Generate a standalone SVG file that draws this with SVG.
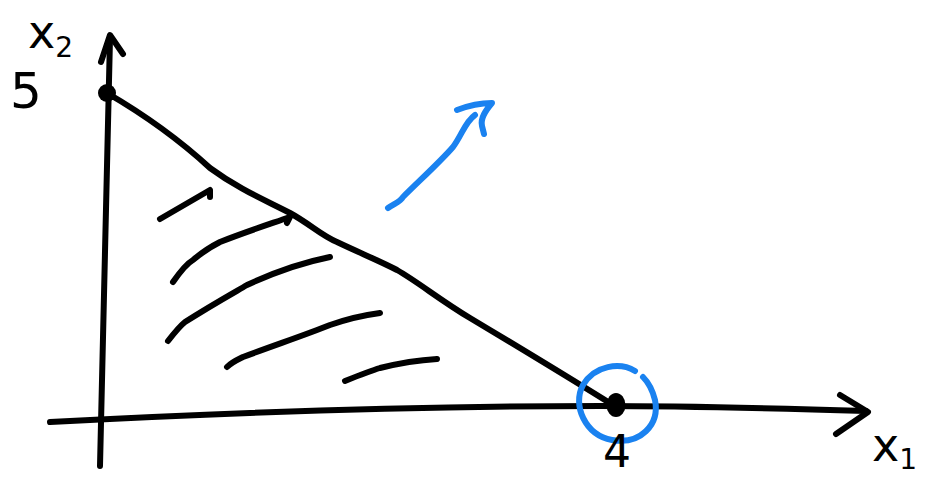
<svg xmlns="http://www.w3.org/2000/svg" width="930" height="480" viewBox="0 0 930 480">
<style>
.ink{fill:none;stroke:#000;stroke-width:6;stroke-linecap:round;stroke-linejoin:round}
.blue{fill:none;stroke:#1a82f0;stroke-width:6;stroke-linecap:round;stroke-linejoin:round}
.lbl{font-family:"DejaVu Sans","Liberation Sans",sans-serif;fill:#000}
</style>
<rect width="930" height="480" fill="#fff"/>
<g id="axes">
  <path class="ink" d="M100,466 C102,340 106,200 110,38"/>
  <path class="ink" d="M101,62 L110,35 L123,54"/>
  <path class="ink" d="M50,422 C200,414 400,406 600,406 C700,406 800,409 866,411"/>
  <path class="ink" d="M840,395 L868,412 L836,434"/>
</g>
<g id="feasible-region">
  <path class="ink" d="M107,93 C150,118 185,145 210,168 C240,190 265,200 290,213 C310,224 322,236 337,242 C360,253 380,261 397,270 C418,282 440,300 470,318 C510,342 560,372 616,407"/>
  <path class="ink" d="M160,219 L210,190 L210,197"/>
  <path class="ink" d="M173,282 C180,272 186,264 193,260 C205,250 212,246 220,242 C245,232 270,224 290,217 L287,223"/>
  <path class="ink" d="M168,341 C175,332 180,326 185,322 C210,306 228,296 247,285 C275,272 305,262 330,257"/>
  <path class="ink" d="M227,367 C232,362 237,360 243,357 C275,345 305,335 330,325 C350,318 365,315 380,313"/>
  <path class="ink" d="M345,381 C360,375 370,371 380,368 C400,363 420,360 437,359"/>
</g>
<g id="point-5">
  <circle cx="107" cy="93" r="9" fill="#000"/>
  <text class="lbl" x="10" y="108" font-size="50">5</text>
</g>
<g id="point-4">
  <ellipse cx="616" cy="405" rx="9.5" ry="12" fill="#000"/>
  <path class="blue" d="M635,371 C620,362 595,365 583,385 C572,405 585,435 612,440 C640,445 660,425 655,400 C652,388 648,382 643,377"/>
  <text class="lbl" x="603" y="467" font-size="44">4</text>
</g>
<g id="labels">
  <text class="lbl" x="28" y="48" font-size="46">x<tspan font-size="28" dy="9">2</tspan></text>
  <text class="lbl" x="872" y="461" font-size="46">x<tspan font-size="28" dy="8">1</tspan></text>
</g>
<g id="connectors">
  <path class="blue" d="M388,208 C395,203 400,202 403,197 C420,180 440,162 453,147 C462,135 465,122 475,115"/>
  <path class="blue" d="M457,110 C470,105 482,103 492,103 C486,110 480,118 482,126 L484,134"/>
</g>
</svg>
